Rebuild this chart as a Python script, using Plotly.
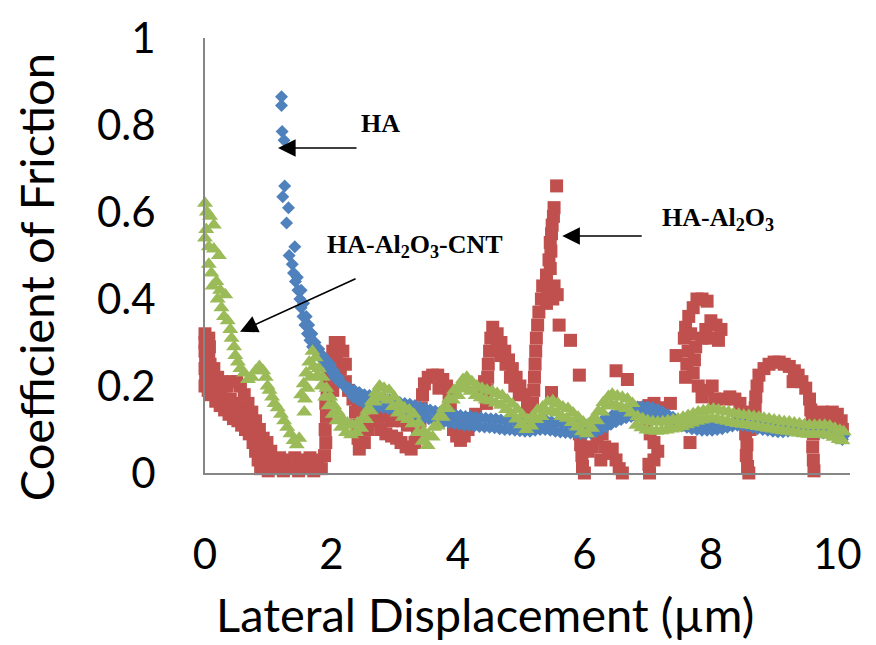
import plotly.graph_objects as go

# ---------------- data: coefficient of friction vs lateral displacement ----------------
# HA-Al2O3 (red squares)
ha_al_pts = [
    (0.00, 0.32), (0.00, 0.30), (0.00, 0.28), (0.01, 0.26), (0.00, 0.24), (0.01, 0.22), (0.00, 0.20),
    (0.06, 0.31), (0.07, 0.29), (0.06, 0.27), (0.08, 0.25), (0.07, 0.23), (0.06, 0.21), (0.05, 0.19),
    (0.14, 0.24), (0.20, 0.22), (0.27, 0.21), (0.35, 0.20), (0.43, 0.21), (0.50, 0.21), (0.56, 0.20),
    (0.62, 0.18), (0.68, 0.16), (0.74, 0.14), (0.80, 0.12), (0.86, 0.10), (0.92, 0.08), (0.98, 0.07),
    (1.04, 0.05),
    (0.12, 0.20), (0.18, 0.19), (0.25, 0.18), (0.32, 0.17), (0.40, 0.17), (0.47, 0.16), (0.54, 0.15),
    (0.60, 0.14), (0.66, 0.12), (0.72, 0.10), (0.78, 0.08), (0.84, 0.06), (0.90, 0.04),
    (0.10, 0.18), (0.17, 0.165), (0.24, 0.155), (0.31, 0.145), (0.38, 0.135), (0.45, 0.125),
    (0.52, 0.12), (0.58, 0.11), (0.64, 0.10), (0.70, 0.09), (0.76, 0.07), (0.80, 0.05), (0.84, 0.03),
    (0.88, 0.01), (0.95, 0.035), (1.00, 0.005), (1.06, 0.03), (1.12, 0.01), (1.18, 0.035), (1.24, 0.005),
    (1.30, 0.03), (1.36, 0.01), (1.42, 0.035), (1.48, 0.005), (1.54, 0.03), (1.60, 0.01), (1.66, 0.035),
    (1.72, 0.005), (1.78, 0.03), (1.84, 0.01),
    (1.89, 0.04), (1.91, 0.07), (1.90, 0.10), (1.92, 0.13), (1.91, 0.16), (1.93, 0.19), (1.95, 0.22),
    (2.00, 0.25), (2.02, 0.28), (2.06, 0.30), (2.12, 0.30), (2.18, 0.28), (2.08, 0.26), (2.14, 0.24),
    (2.22, 0.25), (2.04, 0.22), (2.12, 0.21), (2.22, 0.21), (2.27, 0.19), (2.02, 0.19),
    (2.34, 0.17), (2.42, 0.165), (2.50, 0.16), (2.58, 0.155), (2.38, 0.14), (2.40, 0.11), (2.42, 0.08),
    (2.44, 0.055), (2.52, 0.07), (2.58, 0.10), (2.64, 0.12), (2.72, 0.13), (2.80, 0.135), (2.88, 0.13),
    (2.96, 0.12), (3.04, 0.125), (3.12, 0.12), (3.20, 0.11), (2.78, 0.10), (2.86, 0.09), (2.95, 0.085),
    (3.03, 0.08), (3.10, 0.07), (3.18, 0.06), (3.26, 0.055), (3.32, 0.07), (3.36, 0.09),
    (3.40, 0.12), (3.42, 0.15), (3.44, 0.18), (3.47, 0.205), (3.53, 0.22), (3.60, 0.225), (3.68, 0.225),
    (3.76, 0.215), (3.82, 0.20), (3.86, 0.175), (3.88, 0.15), (3.90, 0.125), (3.93, 0.10), (3.70, 0.195),
    (3.98, 0.085), (4.04, 0.075), (4.10, 0.085), (4.16, 0.10), (4.22, 0.12), (4.28, 0.135), (4.12, 0.125),
    (4.06, 0.10),
    (4.45, 0.16), (4.46, 0.19), (4.47, 0.22), (4.48, 0.25), (4.50, 0.28), (4.52, 0.31), (4.55, 0.335),
    (4.40, 0.18), (4.42, 0.21),
    (4.62, 0.32), (4.68, 0.30), (4.74, 0.28), (4.80, 0.26), (4.86, 0.24), (4.92, 0.22), (4.98, 0.20),
    (5.04, 0.18), (5.10, 0.16), (5.14, 0.15), (4.62, 0.29), (4.68, 0.27), (4.76, 0.25), (4.83, 0.22),
    (4.90, 0.20), (4.97, 0.18),
    (5.18, 0.16), (5.20, 0.19), (5.21, 0.22), (5.22, 0.25), (5.23, 0.28), (5.24, 0.31), (5.26, 0.34),
    (5.28, 0.37),
    (5.32, 0.40), (5.40, 0.39), (5.50, 0.40), (5.57, 0.41), (5.34, 0.43), (5.42, 0.42), (5.52, 0.43),
    (5.40, 0.455), (5.46, 0.47), (5.44, 0.49), (5.47, 0.51), (5.46, 0.53), (5.48, 0.55), (5.49, 0.57),
    (5.51, 0.59), (5.52, 0.61), (5.56, 0.66),
    (5.48, 0.185), (5.48, 0.11), (5.60, 0.34), (5.78, 0.305), (5.92, 0.225), (6.50, 0.235), (6.68, 0.215),
    (5.92, 0.09), (5.94, 0.065), (5.96, 0.04), (5.97, 0.015), (6.00, 0.00), (6.06, 0.05), (6.12, 0.06),
    (6.20, 0.08), (6.28, 0.09), (6.32, 0.06), (6.38, 0.045), (6.44, 0.055), (6.50, 0.03), (6.55, 0.01),
    (6.60, 0.00), (6.26, 0.03),
    (6.86, 0.135), (6.94, 0.15), (7.02, 0.155), (7.10, 0.16), (7.18, 0.15), (7.36, 0.16), (6.98, 0.11),
    (7.04, 0.09), (7.10, 0.07), (7.16, 0.05), (7.10, 0.03), (7.02, 0.02), (7.03, 0.00), (7.67, 0.07),
    (7.45, 0.27),
    (7.60, 0.22), (7.62, 0.25), (7.64, 0.28), (7.72, 0.23), (7.74, 0.26), (7.76, 0.29),
    (7.58, 0.31), (7.60, 0.335), (7.65, 0.36), (7.72, 0.38), (7.78, 0.40), (7.86, 0.40), (7.94, 0.395),
    (7.68, 0.32), (7.92, 0.33), (8.00, 0.35), (8.08, 0.34), (8.16, 0.33), (8.12, 0.305), (7.98, 0.31),
    (7.86, 0.31),
    (7.80, 0.20), (7.86, 0.175), (7.95, 0.19), (8.02, 0.20), (8.06, 0.17),
    (8.22, 0.17), (8.30, 0.175), (8.38, 0.17), (8.46, 0.16),
    (8.52, 0.14), (8.54, 0.115), (8.55, 0.09), (8.57, 0.065), (8.56, 0.04), (8.58, 0.015), (8.60, 0.00),
    (8.62, 0.10),
    (8.70, 0.15), (8.71, 0.175), (8.73, 0.20), (8.76, 0.225), (8.84, 0.24), (8.92, 0.25), (9.00, 0.255),
    (9.08, 0.255), (9.16, 0.25), (9.24, 0.245), (9.32, 0.235), (9.38, 0.225), (9.44, 0.21), (9.50, 0.195),
    (9.30, 0.21),
    (9.56, 0.17), (9.58, 0.145), (9.60, 0.12), (9.62, 0.09), (9.61, 0.06), (9.62, 0.03), (9.63, 0.005),
    (9.70, 0.13), (9.76, 0.14), (9.84, 0.135), (9.92, 0.14), (10.00, 0.135), (10.06, 0.12), (10.08, 0.10),
    (9.80, 0.11), (9.96, 0.11),
]

# HA (blue diamonds)
ha_pts = [
    (1.21, 0.865), (1.21, 0.845), (1.22, 0.785), (1.25, 0.765), (1.26, 0.66), (1.23, 0.635),
    (1.32, 0.61), (1.29, 0.575), (1.42, 0.52), (1.33, 0.50),
    (1.38, 0.48), (1.40, 0.46), (1.43, 0.44), (1.47, 0.42), (1.50, 0.40), (1.52, 0.38), (1.55, 0.36),
    (1.58, 0.34), (1.62, 0.32), (1.66, 0.305), (1.70, 0.29), (1.75, 0.28), (1.80, 0.27), (1.86, 0.26),
    (1.92, 0.25), (1.98, 0.235), (2.05, 0.22), (2.12, 0.21), (2.20, 0.20), (2.28, 0.195), (2.36, 0.19),
    (2.44, 0.185), (2.52, 0.18), (2.60, 0.178), (2.68, 0.175), (2.76, 0.172), (2.84, 0.17), (2.92, 0.168),
    (3.00, 0.165), (3.08, 0.162), (3.16, 0.16), (3.24, 0.158), (3.32, 0.155), (3.40, 0.152), (3.48, 0.148),
    (3.56, 0.145), (3.64, 0.142), (3.72, 0.14), (3.80, 0.138), (3.88, 0.136), (3.96, 0.134), (4.04, 0.132),
    (4.12, 0.13), (4.20, 0.13), (4.28, 0.128), (4.36, 0.127), (4.44, 0.126), (4.52, 0.125), (4.60, 0.124),
    (4.68, 0.122), (4.76, 0.12), (4.84, 0.12), (4.92, 0.118), (5.00, 0.117), (5.08, 0.116), (5.16, 0.116),
    (5.24, 0.118), (5.32, 0.12), (5.40, 0.12), (5.48, 0.118), (5.56, 0.116), (5.64, 0.114), (5.72, 0.113),
    (5.80, 0.112), (5.88, 0.112), (5.96, 0.11), (6.04, 0.11), (6.12, 0.112), (6.20, 0.115), (6.28, 0.12),
    (6.36, 0.126), (6.44, 0.132), (6.52, 0.138), (6.60, 0.143), (6.68, 0.147), (6.76, 0.15), (6.84, 0.152),
    (6.92, 0.153), (7.00, 0.152), (7.08, 0.15), (7.16, 0.146), (7.24, 0.14), (7.32, 0.134), (7.40, 0.128),
    (7.48, 0.122), (7.56, 0.118), (7.64, 0.115), (7.72, 0.112), (7.80, 0.11), (7.88, 0.108), (7.96, 0.108),
    (8.04, 0.108), (8.12, 0.11), (8.20, 0.112), (8.28, 0.115), (8.36, 0.118), (8.44, 0.12), (8.52, 0.12),
    (8.60, 0.118), (8.68, 0.115), (8.76, 0.112), (8.84, 0.11), (8.92, 0.108), (9.00, 0.106), (9.08, 0.105),
    (9.16, 0.105), (9.24, 0.106), (9.32, 0.108), (9.40, 0.11), (9.48, 0.11), (9.56, 0.108), (9.64, 0.106),
    (9.72, 0.104), (9.80, 0.102), (9.88, 0.10), (9.96, 0.097), (10.04, 0.092), (10.10, 0.085),
    (1.46, 0.45), (1.52, 0.42), (1.56, 0.39), (1.60, 0.36), (1.64, 0.34), (1.69, 0.32), (1.74, 0.30),
    (1.80, 0.285), (1.86, 0.27), (1.92, 0.26), (1.98, 0.25), (2.04, 0.235), (2.11, 0.22), (2.18, 0.205),
    (2.26, 0.19), (2.34, 0.175), (2.42, 0.168), (2.50, 0.162), (2.58, 0.158), (2.66, 0.155), (2.74, 0.152),
    (2.82, 0.15), (2.90, 0.148), (2.98, 0.145), (3.06, 0.142), (3.14, 0.14), (3.22, 0.138), (3.30, 0.135),
    (3.38, 0.132), (3.46, 0.128), (3.54, 0.125), (3.62, 0.122), (3.70, 0.12), (3.78, 0.118), (3.86, 0.116),
    (3.94, 0.114), (4.02, 0.112), (4.10, 0.11), (4.18, 0.11), (4.26, 0.108), (4.34, 0.107), (4.42, 0.106),
    (4.50, 0.105), (4.58, 0.104), (4.66, 0.102), (4.74, 0.10), (4.82, 0.10), (4.90, 0.098), (4.98, 0.097),
    (5.06, 0.096), (5.14, 0.096), (5.22, 0.098), (5.30, 0.10), (5.38, 0.10), (5.46, 0.098), (5.54, 0.096),
    (5.62, 0.094), (5.70, 0.093), (5.78, 0.092), (5.86, 0.092), (5.94, 0.09), (6.02, 0.09), (6.10, 0.092),
    (6.18, 0.095), (6.26, 0.10), (6.34, 0.106), (6.42, 0.112), (6.50, 0.118), (6.58, 0.123), (6.66, 0.127),
    (6.74, 0.13), (6.82, 0.132), (6.90, 0.133), (6.98, 0.132), (7.06, 0.13), (7.14, 0.126), (7.22, 0.12),
    (7.30, 0.122), (7.38, 0.117), (7.46, 0.112), (7.54, 0.108), (7.62, 0.105), (7.70, 0.102), (7.78, 0.10),
    (7.86, 0.098), (7.94, 0.098), (8.02, 0.098), (8.10, 0.10), (8.18, 0.102), (8.26, 0.105), (8.34, 0.108),
    (8.42, 0.11), (8.50, 0.11), (8.58, 0.108), (8.66, 0.105), (8.74, 0.102), (8.82, 0.10), (8.90, 0.098),
    (8.98, 0.096), (9.06, 0.095), (9.14, 0.095), (9.22, 0.096), (9.30, 0.098), (9.38, 0.10), (9.46, 0.10),
    (9.54, 0.098), (9.62, 0.096), (9.70, 0.094), (9.78, 0.092), (9.86, 0.09), (9.94, 0.087), (10.02, 0.082),
    (10.08, 0.077),
]

# HA-Al2O3-CNT (green triangles)
ha_al_cnt_pts = [
    (0.00, 0.62), (0.03, 0.60), (0.08, 0.59), (0.14, 0.57), (0.02, 0.56), (0.00, 0.54), (0.06, 0.52),
    (0.14, 0.515), (0.22, 0.50), (0.06, 0.48), (0.10, 0.46), (0.18, 0.44), (0.24, 0.42), (0.32, 0.41),
    (0.12, 0.43), (0.20, 0.40), (0.26, 0.38), (0.30, 0.36), (0.36, 0.35), (0.40, 0.33), (0.42, 0.31),
    (0.46, 0.29), (0.48, 0.27), (0.52, 0.255), (0.56, 0.24), (0.62, 0.23), (0.68, 0.215), (0.74, 0.22),
    (0.80, 0.235), (0.86, 0.245), (0.92, 0.235), (0.96, 0.22), (0.99, 0.20), (1.02, 0.19), (1.06, 0.175),
    (1.10, 0.16), (1.15, 0.15), (1.20, 0.135), (1.25, 0.12), (1.30, 0.105), (1.35, 0.09), (1.40, 0.075),
    (1.45, 0.065), (1.49, 0.08), (1.57, 0.14),
    (1.52, 0.18), (1.56, 0.205), (1.60, 0.23), (1.65, 0.255), (1.70, 0.28), (1.75, 0.265), (1.80, 0.24),
    (1.86, 0.22), (1.92, 0.195), (1.98, 0.175), (2.04, 0.155), (2.10, 0.14), (2.17, 0.125), (2.25, 0.115),
    (2.33, 0.11), (2.41, 0.115), (2.49, 0.125), (2.57, 0.145), (2.64, 0.165), (2.70, 0.185), (2.76, 0.20),
    (2.83, 0.195), (2.91, 0.19), (2.99, 0.175), (3.07, 0.16), (3.15, 0.15), (3.23, 0.145), (3.30, 0.135),
    (3.38, 0.115), (3.46, 0.095), (3.54, 0.085), (3.62, 0.105), (3.70, 0.13), (3.78, 0.15), (3.86, 0.17),
    (3.94, 0.19), (4.02, 0.20), (4.08, 0.215), (4.14, 0.22), (4.22, 0.21), (4.30, 0.20), (4.38, 0.195),
    (4.46, 0.19), (4.54, 0.188), (4.62, 0.183), (4.70, 0.178), (4.78, 0.168), (4.86, 0.158), (4.94, 0.146),
    (5.02, 0.133), (5.10, 0.122), (5.18, 0.13), (5.26, 0.145), (5.34, 0.152), (5.42, 0.163), (5.50, 0.166),
    (5.58, 0.16), (5.66, 0.152), (5.74, 0.148), (5.82, 0.138), (5.90, 0.128), (5.98, 0.117), (6.06, 0.112),
    (6.14, 0.125), (6.22, 0.142), (6.30, 0.162), (6.38, 0.176), (6.44, 0.181), (6.52, 0.177), (6.60, 0.174),
    (6.68, 0.17), (6.76, 0.16), (6.84, 0.13), (6.92, 0.125), (7.00, 0.12), (7.08, 0.118), (7.16, 0.117),
    (7.24, 0.118), (7.32, 0.12), (7.40, 0.122), (7.48, 0.124), (7.56, 0.128), (7.64, 0.132), (7.72, 0.136),
    (7.80, 0.14), (7.88, 0.143), (7.96, 0.146), (8.04, 0.147), (8.12, 0.145), (8.20, 0.142), (8.28, 0.14),
    (8.36, 0.137), (8.44, 0.135), (8.52, 0.133), (8.60, 0.132), (8.68, 0.13), (8.76, 0.128), (8.84, 0.126),
    (8.92, 0.124), (9.00, 0.122), (9.08, 0.12), (9.16, 0.118), (9.24, 0.117), (9.32, 0.115), (9.40, 0.113),
    (9.48, 0.111), (9.56, 0.11), (9.64, 0.11), (9.72, 0.11), (9.80, 0.11), (9.88, 0.108), (9.96, 0.103),
    (10.04, 0.098), (10.10, 0.095),
    (1.58, 0.17), (1.62, 0.195), (1.67, 0.22), (1.72, 0.245), (1.78, 0.225), (1.84, 0.20), (1.90, 0.175),
    (1.96, 0.155), (2.02, 0.135), (2.08, 0.12), (2.15, 0.105), (2.23, 0.093), (2.31, 0.088), (2.39, 0.093),
    (2.47, 0.103), (2.55, 0.123), (2.62, 0.143), (2.68, 0.163), (2.74, 0.178), (2.81, 0.173), (2.89, 0.168),
    (2.97, 0.153), (3.05, 0.138), (3.13, 0.128), (3.21, 0.123), (3.28, 0.113), (3.36, 0.093), (3.44, 0.073),
    (3.52, 0.063), (3.60, 0.083), (3.68, 0.108), (3.76, 0.128), (3.84, 0.148), (3.92, 0.168), (4.00, 0.178),
    (4.06, 0.193), (4.12, 0.198), (4.20, 0.188), (4.28, 0.178), (4.36, 0.173), (4.44, 0.168), (4.52, 0.166),
    (4.60, 0.161), (4.68, 0.156), (4.76, 0.146), (4.84, 0.136), (4.92, 0.124), (5.00, 0.111), (5.08, 0.10),
    (5.16, 0.108), (5.24, 0.123), (5.32, 0.13), (5.40, 0.141), (5.48, 0.144), (5.56, 0.138), (5.64, 0.13),
    (5.72, 0.126), (5.80, 0.116), (5.88, 0.106), (5.96, 0.095), (6.04, 0.09), (6.12, 0.103), (6.20, 0.12),
    (6.28, 0.14), (6.36, 0.154), (6.42, 0.159), (6.50, 0.155), (6.58, 0.152), (6.66, 0.148), (6.74, 0.138),
    (6.82, 0.11), (6.90, 0.104), (6.98, 0.099), (7.06, 0.097), (7.14, 0.096), (7.22, 0.097), (7.30, 0.099),
    (7.38, 0.101), (7.46, 0.103), (7.54, 0.107), (7.62, 0.111), (7.70, 0.115), (7.78, 0.119), (7.86, 0.122),
    (7.94, 0.125), (8.02, 0.126), (8.10, 0.124), (8.18, 0.121), (8.26, 0.119), (8.34, 0.116), (8.42, 0.114),
    (8.50, 0.112), (8.58, 0.111), (8.66, 0.109), (8.74, 0.107), (8.82, 0.105), (8.90, 0.103), (8.98, 0.101),
    (9.06, 0.099), (9.14, 0.097), (9.22, 0.096), (9.30, 0.094), (9.38, 0.092), (9.46, 0.09), (9.54, 0.089),
    (9.62, 0.089), (9.70, 0.089), (9.78, 0.089), (9.86, 0.087), (9.94, 0.082), (10.02, 0.077), (10.08, 0.074),
]

x_ticks = [0, 2, 4, 6, 8, 10]
y_ticks = [0, 0.2, 0.4, 0.6, 0.8, 1]
y_tick_text = ["0", "0.2", "0.4", "0.6", "0.8", "1"]

# ---------------- figure ----------------
def unzip(points):
    return [p[0] for p in points], [p[1] for p in points]

fig = go.Figure()

series = [
    ("HA-Al2O3", ha_al_pts, "square", 13, "#C0504D"),
    ("HA", ha_pts, "diamond", 10, "#4F81BD"),
    ("HA-Al2O3-CNT", ha_al_cnt_pts, "triangle-up", 14, "#9BBB59"),
]
for name, pts, symbol, size, color in series:
    xs, ys = unzip(pts)
    fig.add_trace(go.Scatter(
        x=xs, y=ys, mode="markers", name=name, cliponaxis=False,
        marker=dict(symbol=symbol, size=size, color=color, line=dict(width=0)),
        showlegend=False,
    ))

label_font = dict(family="Liberation Serif", size=26, color="black")
tick_font = dict(family="Lato", size=42, color="black")
title_font = dict(family="Lato", size=47, color="black")

# arrows pointing at each curve
arrows = [
    dict(x=1.155, y=0.747, ax=2.42, ay=0.747),
    dict(x=0.554, y=0.325, ax=2.405, ay=0.448),
    dict(x=5.65, y=0.545, ax=6.93, ay=0.545),
]
for a in arrows:
    fig.add_annotation(
        x=a["x"], y=a["y"], ax=a["ax"], ay=a["ay"], xref="x", yref="y", axref="x", ayref="y",
        text="", showarrow=True, arrowhead=2, arrowsize=2.2, arrowwidth=1.6, arrowcolor="black",
    )

fig.add_annotation(x=2.77, y=0.803, xref="x", yref="y", text="<b>HA</b>",
                   showarrow=False, font=label_font)
fig.add_annotation(x=3.32, y=0.522, xref="x", yref="y",
                   text="<b>HA-Al<sub>2</sub>O<sub>3</sub>-CNT</b>", showarrow=False, font=label_font)
fig.add_annotation(x=8.12, y=0.583, xref="x", yref="y",
                   text="<b>HA-Al<sub>2</sub>O<sub>3</sub></b>", showarrow=False, font=label_font)

# axis titles
fig.add_annotation(x=-0.262, y=0.45, xref="paper", yref="paper", xanchor="center", yanchor="middle",
                   text="Coefficient of Friction", textangle=-90, showarrow=False, font=title_font)
fig.add_annotation(x=0.434, y=-0.323, xref="paper", yref="paper", xanchor="center", yanchor="middle",
                   text="Lateral Displacement (µm)", showarrow=False, font=title_font)

fig.update_layout(
    width=876, height=645,
    margin=dict(l=205, r=26, t=27, b=172),
    paper_bgcolor="white", plot_bgcolor="white",
    showlegend=False,
    xaxis=dict(range=[0, 10.2], tickvals=x_ticks, showgrid=False, zeroline=False,
               showline=True, linecolor="#868686", linewidth=2, ticks="",
               ticklabelstandoff=44, tickfont=tick_font),
    yaxis=dict(range=[0, 1.0], tickvals=y_ticks, ticktext=y_tick_text, showgrid=False, zeroline=False,
               showline=True, linecolor="#868686", linewidth=2, ticks="",
               ticklabelstandoff=39, tickfont=tick_font),
)

fig.write_html("out.html")
